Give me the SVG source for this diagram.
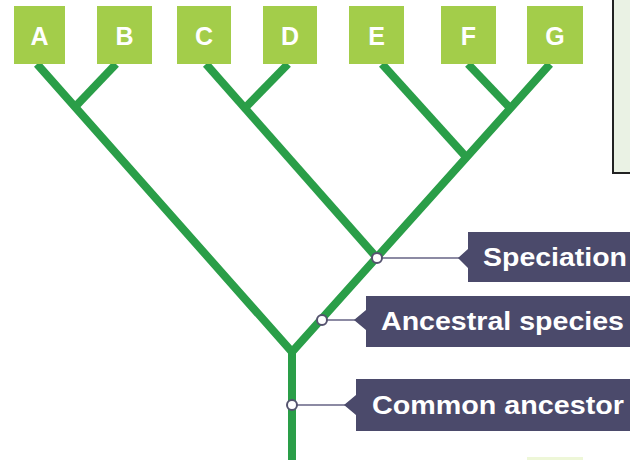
<svg xmlns="http://www.w3.org/2000/svg" width="630" height="460" viewBox="0 0 630 460">
<style>
.leaf rect{fill:#a3cd4a}
.leaf text{fill:#fff;font-family:"Liberation Sans",Arial,sans-serif;font-weight:bold;font-size:25px;text-anchor:middle}
.branch{stroke:#2a9e48;stroke-width:8;fill:none;stroke-linecap:butt}
.lbl path{fill:#4b4a6b}
.lbl text{fill:#fff;font-family:"Liberation Sans",Arial,sans-serif;font-weight:bold;font-size:26px}
.lead{stroke:#8c8aa3;stroke-width:2}
.dot{fill:#fff;stroke:#55536f;stroke-width:2}
</style>
<rect x="613" y="-5" width="30" height="178" fill="#eaf2e4" stroke="#222" stroke-width="2"/>
<rect x="527" y="457" width="56" height="5" fill="#eef7d8"/>
<g id="connectors">
<line class="branch" x1="292" y1="460" x2="292" y2="352"/>
<polyline class="branch" points="37,64 292,352 550,64"/>
<line class="branch" x1="116" y1="64" x2="75" y2="107"/>
<line class="branch" x1="206" y1="64" x2="377" y2="258"/>
<line class="branch" x1="288" y1="64" x2="245" y2="108"/>
<line class="branch" x1="382" y1="64" x2="467" y2="158"/>
<line class="branch" x1="468" y1="64" x2="511" y2="109"/>
<line class="lead" x1="377" y1="258" x2="460" y2="258"/>
<line class="lead" x1="322" y1="320" x2="355" y2="320"/>
<line class="lead" x1="292" y1="405" x2="345" y2="405"/>
</g>
<g id="A" class="leaf"><rect x="14" y="6" width="51" height="58"/><text x="39.5" y="45">A</text></g>
<g id="B" class="leaf"><rect x="97" y="6" width="55" height="58"/><text x="124.5" y="45">B</text></g>
<g id="C" class="leaf"><rect x="177" y="6" width="54" height="58"/><text x="204" y="45">C</text></g>
<g id="D" class="leaf"><rect x="263" y="6" width="54" height="58"/><text x="290" y="45">D</text></g>
<g id="E" class="leaf"><rect x="349" y="6" width="55" height="58"/><text x="376.5" y="45">E</text></g>
<g id="F" class="leaf"><rect x="441" y="6" width="55" height="58"/><text x="468.5" y="45">F</text></g>
<g id="G" class="leaf"><rect x="527" y="6" width="56" height="58"/><text x="555" y="45">G</text></g>
<g id="speciation" class="lbl"><path d="M468,232 H632 V282 H468 V268 L458,258 L468,249 Z"/><text x="483" y="266" textLength="144" lengthAdjust="spacingAndGlyphs">Speciation</text><circle class="dot" cx="377" cy="258" r="5"/></g>
<g id="ancestral" class="lbl"><path d="M366,296 H632 V347 H366 V330 L354,320 L366,310 Z"/><text x="381" y="330" textLength="243" lengthAdjust="spacingAndGlyphs">Ancestral species</text><circle class="dot" cx="322" cy="320" r="5"/></g>
<g id="common" class="lbl"><path d="M356,379 H632 V431 H356 V415 L344,405 L356,395 Z"/><text x="372" y="414" textLength="252" lengthAdjust="spacingAndGlyphs">Common ancestor</text><circle class="dot" cx="292" cy="405" r="5"/></g>
</svg>
